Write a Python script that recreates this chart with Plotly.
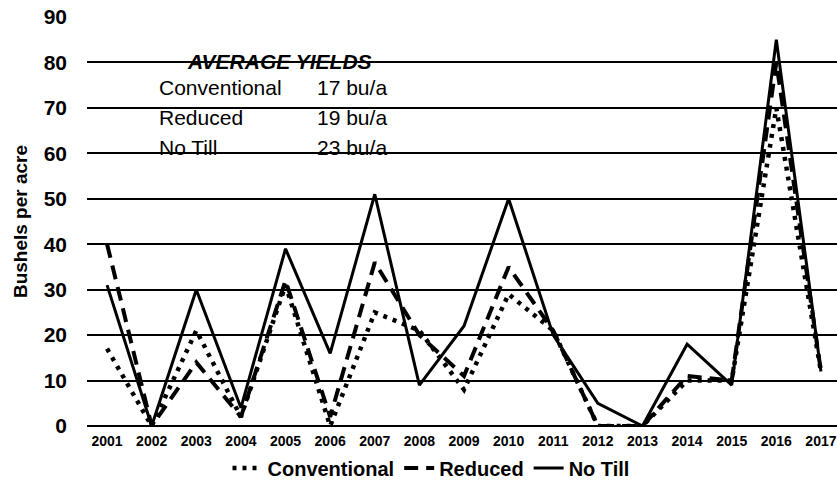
import plotly.graph_objects as go

years = list(range(2001, 2018))
year_labels = [str(y) for y in years]

conventional = [17, 0, 21, 2, 31, 0, 25, 21, 8, 29, 21, 0, 0, 10, 10, 70, 12]
reduced = [40, 0, 14, 2, 32, 2, 36, 20, 11, 35, 21, 0, 0, 11, 10, 80, 12]
no_till = [31, 0, 30, 4, 39, 16, 51, 9, 22, 50, 20, 5, 0, 18, 9, 85, 12]

y_ticks = list(range(0, 100, 10))

avg_title = "AVERAGE YIELDS"
avg_rows = [("Conventional", "17 bu/a"), ("Reduced", "19 bu/a"), ("No Till", "23 bu/a")]

W, H = 837, 491
L, R, T, B = 87, 0, 17, 65
FONT = "Arial, Liberation Sans, sans-serif"


def px(xp):
    return (xp - L) / (W - L - R)


def py(yp):
    return (H - B - yp) / (H - T - B)


fig = go.Figure()
fig.add_trace(go.Scatter(
    x=years, y=conventional, name="Conventional", mode="lines",
    line=dict(color="black", width=4.5, dash="4px,6px"),
))
fig.add_trace(go.Scatter(
    x=years, y=reduced, name="Reduced", mode="lines",
    line=dict(color="black", width=4, dash="14px,8px"),
))
fig.add_trace(go.Scatter(
    x=years, y=no_till, name="No Till", mode="lines",
    line=dict(color="black", width=3),
))

annotations = [dict(
    text="<b><i>" + avg_title + "</i></b>", x=px(279), y=py(61),
    xref="paper", yref="paper", showarrow=False,
    font=dict(family=FONT, size=21, color="black"), xanchor="center", yanchor="middle",
)]
row_y = [88, 117, 147]
for (label, val), yy in zip(avg_rows, row_y):
    annotations.append(dict(
        text=label, x=px(157), y=py(yy), xref="paper", yref="paper", showarrow=False,
        font=dict(family=FONT, size=21, color="black"), xanchor="left", yanchor="middle",
    ))
    annotations.append(dict(
        text=val, x=px(389), y=py(yy), xref="paper", yref="paper", showarrow=False,
        font=dict(family=FONT, size=21, color="black"), xanchor="right", yanchor="middle",
    ))

fig.update_layout(
    width=W, height=H,
    margin=dict(l=L, r=R, t=T, b=B),
    paper_bgcolor="white", plot_bgcolor="white",
    font=dict(family=FONT, color="black"),
    showlegend=True,
    legend=dict(
        orientation="h", xref="container", yref="container",
        x=431 / W, y=1 - 468 / H, xanchor="center", yanchor="middle",
        font=dict(family=FONT, size=20, color="black", weight="bold"),
        itemwidth=30, tracegroupgap=0,
    ),
    annotations=annotations,
)
fig.update_xaxes(
    range=[2000.55, 2017.36], tickmode="array", tickvals=years, ticktext=year_labels,
    showgrid=False, zeroline=False, showline=False, ticks="",
    tickfont=dict(family=FONT, size=14, color="black", weight="bold"),
    ticklabelstandoff=5,
)
fig.update_yaxes(
    range=[0, 90], tickmode="array", tickvals=y_ticks,
    showgrid=True, gridcolor="black", gridwidth=2,
    zeroline=True, zerolinecolor="black", zerolinewidth=2, showline=False, ticks="",
    tickfont=dict(family=FONT, size=21, color="black", weight="bold"),
    ticklabelstandoff=19,
    title=dict(text="Bushels per acre", standoff=10,
               font=dict(family=FONT, size=19, color="black", weight="bold")),
)

fig.write_html("out.html")
